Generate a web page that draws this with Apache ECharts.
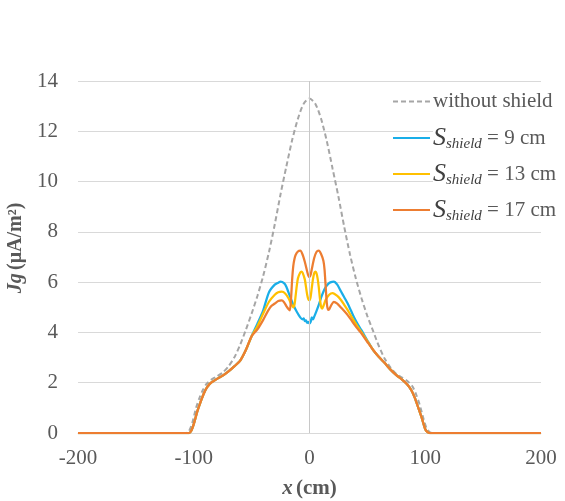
<!DOCTYPE html>
<html>
<head>
<meta charset="utf-8">
<script src="https://cdn.jsdelivr.net/npm/echarts@6/dist/echarts.min.js"></script>
<style>
html,body{margin:0;padding:0;background:#fff;}
#c{width:565px;height:501px;}
</style>
</head>
<body>
<div id="c"></div>
<script>
// ---- data (x in cm, Jg in µA/m²) ----
const seriesNames = ['without shield', 'S9', 'S13', 'S17'];
const shieldLabels = ['9 cm', '13 cm', '17 cm'];
const xTickMin = -200, xTickMax = 200, xTickStep = 100;
const yTickMin = 0, yTickMax = 14, yTickStep = 2;

const withoutShield = [
  [-200,0],[-107,0],[-104,0.08],[-101,0.45],[-98,1.0],[-95,1.4],[-92,1.72],[-89,1.95],[-85,2.12],
  [-80,2.25],[-75,2.4],[-70,2.65],[-65,3.0],[-60,3.5],[-55,4.1],[-50,4.75],[-45,5.45],[-40,6.25],
  [-35,7.2],[-30,8.3],[-25,9.5],[-20,10.6],[-15,11.65],[-10,12.5],[-5,13.1],[0,13.3],[5,13.1],
  [10,12.5],[15,11.6],[20,10.5],[25,9.4],[30,8.2],[35,7.1],[40,6.15],[45,5.35],[50,4.65],[55,4.05],
  [60,3.45],[65,2.95],[70,2.6],[75,2.35],[80,2.2],[85,2.05],[89,1.85],[92,1.55],[95,1.15],[98,0.65],
  [101,0.2],[104,0.03],[107,0],[200,0]
];

const baseLeft = [
  [-200,0],[-104,0],[-102,0.1],[-100,0.35],[-97,0.85],[-94,1.25],[-91,1.6],[-88,1.85],[-85,2.0],
  [-80,2.15],[-75,2.28],[-70,2.45],[-65,2.65],[-60,2.87],[-55,3.3],[-50,3.85]
];
const baseRight = [
  [55,3.3],[60,3.02],[65,2.78],[70,2.52],[75,2.3],[80,2.12],[85,1.9],[88,1.7],[91,1.4],[94,1.0],
  [97,0.6],[100,0.15],[102,0.03],[104,0],[200,0]
];
const shield9Center = [
  [-45,4.35],[-40,4.88],[-35,5.6],[-30,5.9],[-27,5.98],[-25,6.02],[-22,5.96],[-20,5.82],[-17,5.45],
  [-14,5.1],[-11,4.82],[-8,4.6],[-6,4.52],[-5,4.56],[-4,4.45],[-3,4.48],[-2,4.38],[-1,4.42],[0,4.35],
  [1,4.42],[2,4.6],[3,4.52],[4,4.62],[6,4.85],[8,5.1],[10,5.38],[12,5.62],[14,5.8],[16,5.92],[18,5.99],
  [21,6.02],[24,5.9],[27,5.65],[30,5.4],[33,5.15],[36,4.85],[39,4.55],[42,4.3],[45,4.08],[50,3.68]
];
const shield13Center = [
  [-45,4.25],[-40,4.75],[-35,5.22],[-30,5.5],[-27,5.6],[-24,5.62],[-21,5.55],[-18,5.35],[-16,5.15],
  [-14,5.0],[-13,5.1],[-12,5.45],[-11,5.85],[-10,6.15],[-8,6.38],[-7,6.42],[-6,6.38],[-4,6.1],[-3,5.8],
  [-2,5.5],[-1,5.32],[0,5.28],[1,5.42],[2,5.78],[3,6.12],[4,6.35],[5,6.42],[6,6.36],[7,6.15],[8,5.8],
  [9,5.35],[10,5.02],[11,4.95],[12,5.05],[14,5.3],[17,5.5],[20,5.56],[24,5.45],[27,5.3],[30,5.1],
  [33,4.89],[36,4.65],[39,4.42],[42,4.2],[45,4.0],[50,3.65]
];
const shield17Center = [
  [-45,4.12],[-40,4.5],[-36,4.85],[-33,5.05],[-30,5.15],[-27,5.25],[-24,5.27],[-22,5.2],[-20,5.05],
  [-18,4.92],[-17,4.88],[-16,5.3],[-15,6.1],[-14,6.65],[-13,6.92],[-12,7.08],[-10,7.22],[-8,7.25],
  [-6,7.1],[-4,6.8],[-2,6.42],[-1,6.26],[0,6.2],[1,6.3],[2,6.52],[4,6.95],[6,7.2],[8,7.25],[10,7.12],
  [12,6.85],[13,6.5],[14,5.8],[15,5.15],[16,4.9],[17,4.92],[19,5.1],[21,5.22],[24,5.15],[27,5.0],
  [30,4.85],[33,4.69],[36,4.5],[39,4.3],[42,4.12],[45,3.95],[50,3.62]
];
const shield9 = baseLeft.concat(shield9Center, baseRight);
const shield13 = baseLeft.concat(shield13Center, baseRight);
const shield17 = baseLeft.concat(shield17Center, baseRight);

const colors = ['#a6a6a6', '#1aaee8', '#ffc000', '#ed7d31'];

// ---- chart ----
const FONT = '"Liberation Serif","Times New Roman",serif';
const TXT = '#595959';
const chart = echarts.init(document.getElementById('c'), null, {renderer: 'canvas'});

const richS = {
  S: {fontFamily: FONT, fontStyle: 'italic', fontSize: 26, color: '#404040'},
  sub: {fontFamily: FONT, fontStyle: 'italic', fontSize: 15, color: '#404040', padding: [13, 0, 0, 0]},
  n: {fontFamily: FONT, fontSize: 21, color: TXT}
};
function shieldFormatter(i) {
  return function () { return '{S|S}{sub|shield}{n| = ' + shieldLabels[i] + '}'; };
}
const ICON_SOLID = 'path://M0,0H37V2H0Z';
const ICON_DASH = 'path://M0,0h5v2h-5z M8,0h5v2h-5z M16,0h5v2h-5z M24,0h5v2h-5z M32,0h5v2h-5z';
const legendCenters = [102, 138, 174, 210];
const legendOffsets = [11, 13, 13, 13];
const legends = seriesNames.map(function (name, i) {
  return {
    data: [{name: name, icon: i === 0 ? ICON_DASH : ICON_SOLID}],
    orient: 'vertical',
    left: 393,
    top: legendCenters[i] - legendOffsets[i],
    padding: 0,
    itemWidth: 37,
    itemHeight: 2,
    symbolKeepAspect: false,
    itemGap: 4,
    selectedMode: false,
    formatter: i === 0 ? 'without shield' : shieldFormatter(i - 1),
    textStyle: {fontFamily: FONT, fontSize: 21, color: TXT, padding: [0, 0, 0, -2], rich: richS}
  };
});

const option = {
  backgroundColor: '#fff',
  animation: false,
  color: colors,
  grid: {left: 78, right: 24, top: 81, bottom: 68, outerBoundsMode: 'none', containLabel: false},
  legend: legends,
  graphic: [{
    type: 'rect', left: 433, top: 92, z: 1, silent: true,
    shape: {width: 132, height: 135}, style: {fill: '#fff'}
  }],
  xAxis: {
    type: 'value', min: xTickMin, max: xTickMax, interval: xTickStep,
    axisLine: {show: true, onZero: true, lineStyle: {color: '#d9d9d9', width: 1}},
    axisTick: {show: false},
    splitLine: {show: false},
    axisLabel: {fontFamily: FONT, fontSize: 21, color: TXT, margin: 15},
    name: '{i|x} {b|(cm)}',
    nameLocation: 'middle',
    nameGap: 45,
    nameTextStyle: {
      rich: {
        i: {fontFamily: FONT, fontWeight: 'bold', fontStyle: 'italic', fontSize: 21, color: TXT},
        b: {fontFamily: FONT, fontWeight: 'bold', fontSize: 21, color: TXT}
      }
    }
  },
  yAxis: {
    type: 'value', min: yTickMin, max: yTickMax, interval: yTickStep,
    axisLine: {show: false},
    axisTick: {show: false},
    splitLine: {show: true, lineStyle: {color: '#d9d9d9', width: 1}},
    axisLabel: {fontFamily: FONT, fontSize: 21, color: TXT, margin: 20},
    name: '{i|Jg} {b|(μA/m²)}',
    nameLocation: 'middle',
    nameGap: 42,
    nameRotate: 90,
    nameTextStyle: {
      padding: [0, 0, 0, 18],
      rich: {
        i: {fontFamily: FONT, fontWeight: 'bold', fontStyle: 'italic', fontSize: 20, color: TXT},
        b: {fontFamily: FONT, fontWeight: 'bold', fontSize: 20, color: TXT}
      }
    }
  },
  series: [
    {
      name: seriesNames[0], type: 'line', data: withoutShield, symbol: 'none', smooth: 0.25,
      lineStyle: {color: colors[0], width: 2, type: [5, 3]},
      markLine: {
        silent: true, symbol: 'none', label: {show: false},
        lineStyle: {color: '#c8c8c8', width: 1, type: 'solid'},
        data: [{xAxis: 0}]
      },
      z: 2
    },
    {name: seriesNames[1], type: 'line', data: shield9, symbol: 'none', smooth: 0.25,
     lineStyle: {color: colors[1], width: 2.25}, z: 3},
    {name: seriesNames[2], type: 'line', data: shield13, symbol: 'none', smooth: 0.25,
     lineStyle: {color: colors[2], width: 2.25}, z: 3},
    {name: seriesNames[3], type: 'line', data: shield17, symbol: 'none', smooth: 0.25,
     lineStyle: {color: colors[3], width: 2.25}, z: 3}
  ]
};
chart.setOption(option);
</script>
</body>
</html>
